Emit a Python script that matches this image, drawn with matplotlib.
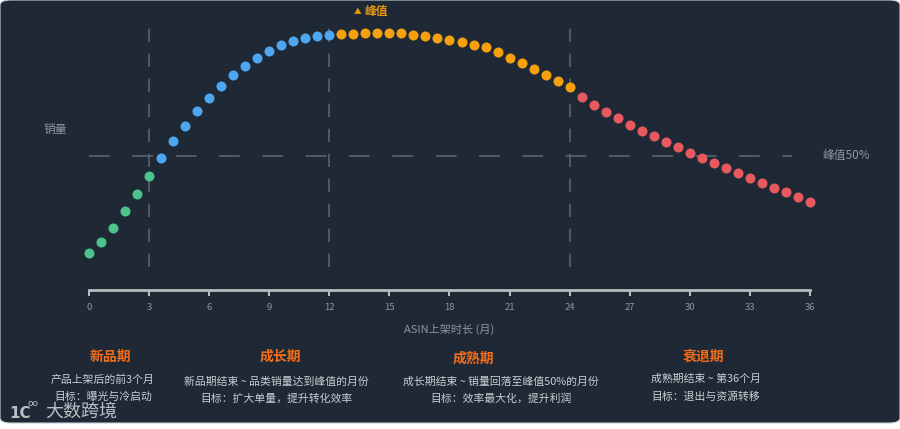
import matplotlib
matplotlib.use("Agg")
import matplotlib.pyplot as plt
from matplotlib.patches import FancyBboxPatch
import numpy as np

plt.rcParams['font.family'] = ['Noto Sans CJK SC', 'DejaVu Sans']

# ---------------- data ----------------
months_new = [0.0, 0.6, 1.2, 1.8, 2.4, 3.0]
sales_new = [10.9, 15.3, 21.1, 27.7, 34.6, 41.9]

months_growth = [3.6, 4.2, 4.8, 5.4, 6.0, 6.6, 7.2, 7.8, 8.4, 9.0, 9.6, 10.2, 10.8, 11.4, 12.0]
sales_growth = [49.2, 56.2, 62.4, 68.3, 73.6, 78.5, 82.8, 86.5, 89.9, 92.6, 94.9, 96.6, 98.0, 98.8, 99.1]

months_mature = [12.6, 13.2, 13.8, 14.4, 15.0, 15.6, 16.2, 16.8, 17.4, 18.0,
                 18.6, 19.2, 19.8, 20.4, 21.0, 21.6, 22.2, 22.8, 23.4, 24.0]
sales_mature = [99.4, 99.6, 99.9, 100.0, 100.0, 99.8, 99.2, 98.7, 97.9, 97.2,
                96.2, 95.1, 94.1, 92.2, 89.8, 87.6, 85.3, 82.8, 80.5, 78.2]

months_decline = [24.6, 25.2, 25.8, 26.4, 27.0, 27.6, 28.2, 28.8, 29.4, 30.0,
                  30.6, 31.2, 31.8, 32.4, 33.0, 33.6, 34.2, 34.8, 35.4, 36.0]
sales_decline = [73.9, 70.6, 67.9, 65.4, 62.8, 60.4, 58.1, 55.8, 53.6, 51.5,
                 49.3, 47.3, 45.1, 43.1, 41.1, 39.2, 37.3, 35.4, 33.5, 31.6]

phase_bounds = [3, 12, 24]
half_peak = 50
xticks = [0, 3, 6, 9, 12, 15, 18, 21, 24, 27, 30, 33, 36]

phase_titles = ["新品期", "成长期", "成熟期", "衰退期"]
phase_desc = ["产品上架后的前3个月",
              "新品期结束 ~ 品类销量达到峰值的月份",
              "成长期结束 ~ 销量回落至峰值50%的月份",
              "成熟期结束 ~ 第36个月"]
phase_goal = ["目标：曝光与冷启动",
              "目标：扩大单量，提升转化效率",
              "目标：效率最大化，提升利润",
              "目标：退出与资源转移"]

# ---------------- style ----------------
W, H = 900, 429
BG = "#1f2935"
C_NEW, C_GROW, C_MAT, C_DEC = "#4cc38a", "#4ea5f0", "#f7a00e", "#e65a5f"
GRID = "#5b636d"
AXIS = "#b7bbc0"
GRAY = "#8f959c"
DESC = "#c9cdd2"
TITLE = "#f26c1a"
PEAK = "#e8960f"

fig = plt.figure(figsize=(W / 100, H / 100), dpi=100)
fig.patch.set_facecolor("white")
panel = FancyBboxPatch((0.0, 6 / H), 1.0, 1 - 6 / H,
                       boxstyle="round,pad=0,rounding_size=0.012",
                       transform=fig.transFigure, facecolor=BG,
                       edgecolor="#c8ccd0", linewidth=0.8, zorder=-10)
fig.patches.append(panel)

def fx(px):
    return px / W

def fy(py):
    return 1 - py / H

ax = fig.add_axes([fx(89), fy(290), fx(810) - fx(89), 290 / H], zorder=1)
ax.set_facecolor("none")
ax.set_xlim(0, 36)
ax.set_ylim(-4.05, 113.2)

for s in ["left", "top", "right"]:
    ax.spines[s].set_visible(False)
ax.spines["bottom"].set_color(AXIS)
ax.spines["bottom"].set_linewidth(2)
ax.set_yticks([])
ax.set_xticks(xticks)
ax.tick_params(axis="x", colors=AXIS, length=4, width=1.5, pad=5,
               labelsize=6.8, labelcolor=GRAY)

# reference lines
ax.vlines(phase_bounds, 5.2, 104.3, colors=GRID, linewidth=1.2,
          linestyles=(0, (8, 7)), zorder=1)
ax.hlines(half_peak, 0, 35.1, colors=GRID, linewidth=1.2,
          linestyles=(0, (12.5, 13.5)), zorder=1)

ms = 52
for xs, ys, c in [(months_new, sales_new, C_NEW),
                  (months_growth, sales_growth, C_GROW),
                  (months_mature, sales_mature, C_MAT),
                  (months_decline, sales_decline, C_DEC)]:
    ax.scatter(xs, ys, s=ms, color=c, zorder=3, linewidths=0, clip_on=False)

ax.set_xlabel("ASIN上架时长 (月)", color=GRAY, fontsize=8, labelpad=9)

# annotations
fig.text(fx(358), fy(12), "▲", color=PEAK, fontsize=5.5,
         ha="center", va="center")
fig.text(fx(364), fy(11.5), "峰值", color=PEAK, fontsize=8.5,
         ha="left", va="center", fontweight="bold")
fig.text(fx(55), fy(130), "销量", color=GRAY, fontsize=8.5, ha="center", va="center")
fig.text(fx(822), fy(156), "峰值50%", color=GRAY, fontsize=8.5, ha="left", va="center")

# phase descriptions
title_x = [110, 280, 473, 703]
title_y = [357, 357, 359, 357]
desc_x = [103, 276, 501, 706]
desc_y = [380, 382, 382, 379]
goal_y = [397, 399, 399, 397]
for i in range(4):
    fig.text(fx(title_x[i]), fy(title_y[i]), phase_titles[i], color=TITLE,
             fontsize=10, fontweight="bold", ha="center", va="center")
    fig.text(fx(desc_x[i]), fy(desc_y[i]), phase_desc[i], color=DESC,
             fontsize=7.8, ha="center", va="center")
    fig.text(fx(desc_x[i]), fy(goal_y[i]), phase_goal[i], color=DESC,
             fontsize=7.8, ha="center", va="center")

# watermark
fig.text(fx(9), fy(413), "1C", color="#b9bec4", fontsize=11, ha="left",
         va="center", fontweight="bold", family=["DejaVu Sans"])
fig.text(fx(28), fy(403), "oo", color="#b9bec4", fontsize=6.5, ha="left",
         va="center", family=["DejaVu Sans"])
fig.text(fx(45), fy(412), "大数跨境", color="#b9bec4", fontsize=13,
         ha="left", va="center")

fig.savefig("out.png", dpi=100, facecolor=fig.get_facecolor())
